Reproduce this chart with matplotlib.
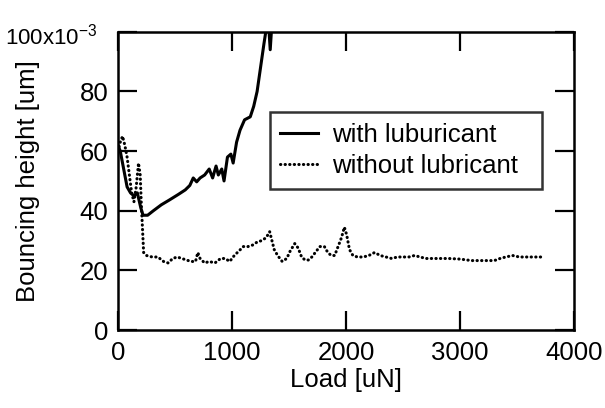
import matplotlib
matplotlib.use('Agg')
import matplotlib.pyplot as plt

# bouncing height vs load, with / without lubricant
load_with = [0, 20, 40, 60, 80, 110, 140, 170, 200, 220, 260, 310, 380, 450, 530,
             590, 630, 660, 690, 720, 760, 800, 830, 860, 880, 910, 930, 960,
             990, 1010, 1040, 1070, 1110, 1160, 1190, 1220, 1250, 1280, 1300,
             1320, 1335, 1350, 1360]
height_with = [62, 60, 56, 52, 48, 46, 45, 46, 41, 38.5, 38.5, 40, 42, 43.6, 45.5,
               47, 48.5, 51, 49.7, 51, 52, 54, 51, 55, 52, 54, 50, 58,
               59, 56, 63, 67, 70.5, 71.5, 75, 80, 88, 96, 101,
               103, 94, 103, 106]

load_without = [0, 20, 40, 60, 80, 100, 120, 140, 160, 180, 195, 205, 215, 225, 250,
                300, 350, 400, 440, 480, 520, 560, 600, 640, 680, 700, 720, 760,
                800, 850, 900, 940, 980, 1020, 1060, 1100, 1140, 1180, 1220, 1260,
                1300, 1330, 1350, 1370, 1400, 1440, 1480, 1510, 1550, 1580, 1610,
                1640, 1670, 1700, 1740, 1770, 1810, 1840, 1870, 1900, 1930, 1960,
                1985, 2005, 2030, 2060, 2100, 2150, 2200, 2250, 2300, 2350, 2400,
                2450, 2500, 2550, 2600, 2650, 2700, 2800, 2900, 3000, 3100, 3200,
                3300, 3350, 3400, 3460, 3520, 3600, 3700, 3730]
height_without = [60, 63, 65, 62, 58, 52, 46, 43, 48, 56, 52, 42, 34, 26, 25,
                  24.5, 24.5, 23, 22.5, 24, 24.5, 24, 23.5, 23, 23, 26, 24, 22.5,
                  23, 22.5, 24, 24, 23, 25, 26.5, 28, 28, 28.5, 29.5, 30,
                  31, 33, 30, 27, 25, 23, 24, 26.5, 29, 27.5, 24.5,
                  23.5, 23.5, 24.5, 26.5, 28, 28, 26, 25, 25, 28, 31,
                  34.5, 32, 27, 25, 24.5, 24.5, 25, 26, 25, 24.5, 24,
                  24.5, 24.5, 24.5, 25, 24.5, 24, 24, 24, 23.8, 23.3, 23.3,
                  23.3, 24, 24.5, 25, 24.5, 24.5, 24.5, 24.5]

xticks = [0, 1000, 2000, 3000, 4000]
yticks = [0, 20, 40, 60, 80, 100]
ytick_labels = ['0', '20', '40', '60', '80', '']
top_label = '100x10$^{\\mathregular{-3}}$'

plt.rcParams['font.family'] = ['Liberation Sans', 'DejaVu Sans']
fs = 18.5

fig = plt.figure(figsize=(6.05, 4.08), dpi=100)
ax = fig.add_axes([0.195, 0.191, 0.754, 0.731])

# trailing spaces widen the legend box on the right like the original
ax.plot(load_with, height_with, color='black', lw=2.2, label='with luburicant  ',
        solid_joinstyle='round')
ax.plot(load_without, height_without, color='black', lw=2.2,
        linestyle=(0, (0.1, 1.4)), dash_capstyle='round',
        label='without lubricant  ')

ax.set_xlim(0, 4000)
ax.set_ylim(0, 100)
ax.set_xticks(xticks)
ax.set_yticks(yticks)
ax.set_yticklabels(ytick_labels)
ax.tick_params(direction='in', length=14, width=1.6, labelsize=fs,
               top=True, right=True)
ax.tick_params(axis='x', pad=8)
ax.tick_params(axis='y', pad=7)
for s in ax.spines.values():
    s.set_linewidth(1.8)

# the top label is smaller and sits a bit left of the others
ax.text(-0.046, 0.983, top_label, transform=ax.transAxes, ha='right', va='center',
        fontsize=16)

ax.set_xlabel('Load [uN]', fontsize=fs, labelpad=2)
ax.set_ylabel('Bouncing height [um]', fontsize=fs)
ax.yaxis.set_label_coords(-0.172, 0.5)

leg = ax.legend(loc='upper right', bbox_to_anchor=(0.93, 0.73), borderaxespad=0,
                fontsize=fs, frameon=True, fancybox=False, handlelength=1.48,
                handletextpad=0.54, borderpad=0.4, labelspacing=0.3)
leg.get_frame().set_edgecolor('black')
leg.get_frame().set_linewidth(1.8)

fig.savefig('out.png', dpi=100)
